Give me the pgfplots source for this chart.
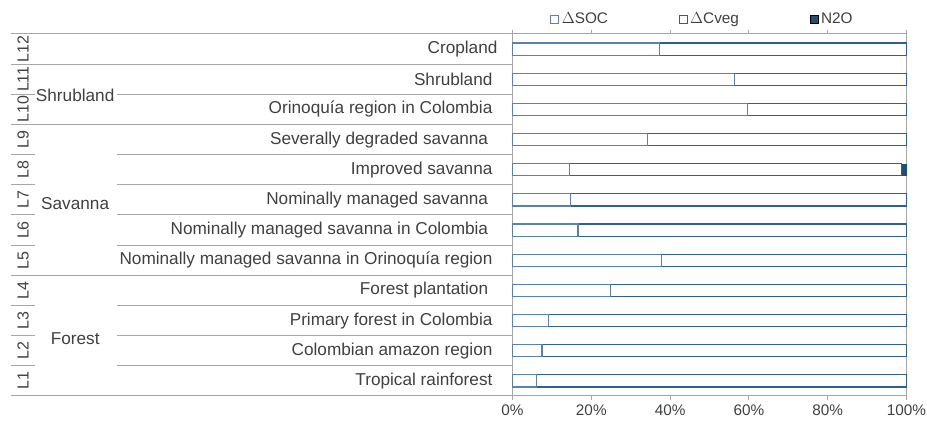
\documentclass[border=0pt]{standalone}
\usepackage{fontspec}
\setmainfont{Liberation Sans}
\usepackage{pgfplots}
\pgfplotsset{compat=1.18}
\definecolor{txt}{HTML}{404040}
\definecolor{rule}{HTML}{A6A6A6}
\definecolor{edge}{HTML}{2F5F95}
\definecolor{soc}{HTML}{5A82B0}
\definecolor{dark}{HTML}{1F4E79}
\begin{document}
\begin{tikzpicture}
\begin{axis}[
  xbar stacked, scale only axis,
  width=295.5pt, height=271.5pt,
  xmin=0, xmax=100, ymin=0.5, ymax=12.5,
  bar width=9.2pt, clip=false,
  axis line style={draw=rule, line width=0.75pt},
  ytick={1,...,12},
  yticklabels={Tropical rainforest\kern3.75pt, Colombian amazon region\kern3.75pt,
    Primary forest in Colombia\kern3.75pt, Forest plantation\kern7pt,
    Nominally managed savanna in Orinoquía region\kern3.75pt,
    Nominally managed savanna in Colombia\kern7pt, Nominally managed savanna\kern7pt,
    Improved savanna\kern3.75pt, Severally degraded savanna\kern7pt,
    Orinoquía region in Colombia\kern3.75pt, Shrubland\kern3.75pt, Cropland},
  y tick style={draw=none},
  yticklabel style={font=\fontsize{12.9}{15}\selectfont, text=txt, anchor=east, inner sep=0pt, xshift=-8.1pt},
  xtick={0,20,...,100},
  xticklabel={\pgfmathprintnumber{\tick}\%},
  /pgf/number format/assume math mode=true,
  xticklabel style={font=\fontsize{11.5}{13}\selectfont, text=txt},
  x tick style={draw=rule, line width=0.75pt},
  tick align=outside, major tick length=3pt,
  legend columns=3,
  legend style={at={(rel axis cs:0.0952,1.0414)}, anchor=west, draw=none, fill=none,
    inner sep=0pt, font=\fontsize{11.5}{13}\selectfont, text=txt,
    /tikz/every even column/.append style={column sep=51pt},
    nodes={inner sep=2pt}},
  legend image code/.code={\draw[#1, line width=0.6pt] (0pt,-3pt) rectangle (6pt,3pt);},
]
\addplot[fill=white, draw=soc, line width=0.9pt] coordinates {
  (6.1,1) (7.5,2) (9.1,3) (24.9,4) (37.9,5) (16.6,6) (14.8,7) (14.5,8)
  (34.2,9) (59.7,10) (56.3,11) (37.4,12)};
\addlegendentry{$\Delta$SOC}
\addplot[fill=white, draw=edge, line width=0.9pt] coordinates {
  (93.9,1) (92.5,2) (90.9,3) (75.1,4) (62.1,5) (83.4,6) (85.2,7) (84.2,8)
  (65.8,9) (40.3,10) (43.7,11) (62.6,12)};
\addlegendentry{$\Delta$Cveg}
\addplot[fill=dark, draw=none] coordinates {
  (0,1) (0,2) (0,3) (0,4) (0,5) (0,6) (0,7) (1.3,8)
  (0,9) (0,10) (0,11) (0,12)};
\addlegendentry{N2O}
% category table on the left
\pgfplotsinvokeforeach{12.5,11.5,9.5,4.5,0.5}{
  \draw[rule, line width=0.75pt] (axis cs:-127.2,#1) -- (axis cs:0,#1);
}
\pgfplotsinvokeforeach{10.5,8.5,7.5,6.5,5.5,3.5,2.5,1.5}{
  \draw[rule, line width=0.75pt] (axis cs:-127.2,#1) -- (axis cs:-121.2,#1);
  \draw[rule, line width=0.75pt] (axis cs:-100.4,#1) -- (axis cs:0,#1);
}
\pgfplotsinvokeforeach{1,...,12}{
  \node[rotate=90, text=txt, font=\fontsize{12}{14}\selectfont, inner sep=0pt]
    at (axis cs:-124.2,#1) {L#1};
}
\node[text=txt, font=\fontsize{12.9}{15}\selectfont, fill=white, inner sep=0.5pt] at (axis cs:-111.0,10.46) {Shrubland};
\node[text=txt, font=\fontsize{12.9}{15}\selectfont] at (axis cs:-111.0,6.87) {Savanna};
\node[text=txt, font=\fontsize{12.9}{15}\selectfont] at (axis cs:-111.0,2.41) {Forest};
\coordinate (bbA) at (axis cs:-130.08,13.627);
\coordinate (bbB) at (axis cs:105.2,-0.329);
\end{axis}
\pgfresetboundingbox
\path[use as bounding box] (bbA) rectangle (bbB);
\end{tikzpicture}
\end{document}
